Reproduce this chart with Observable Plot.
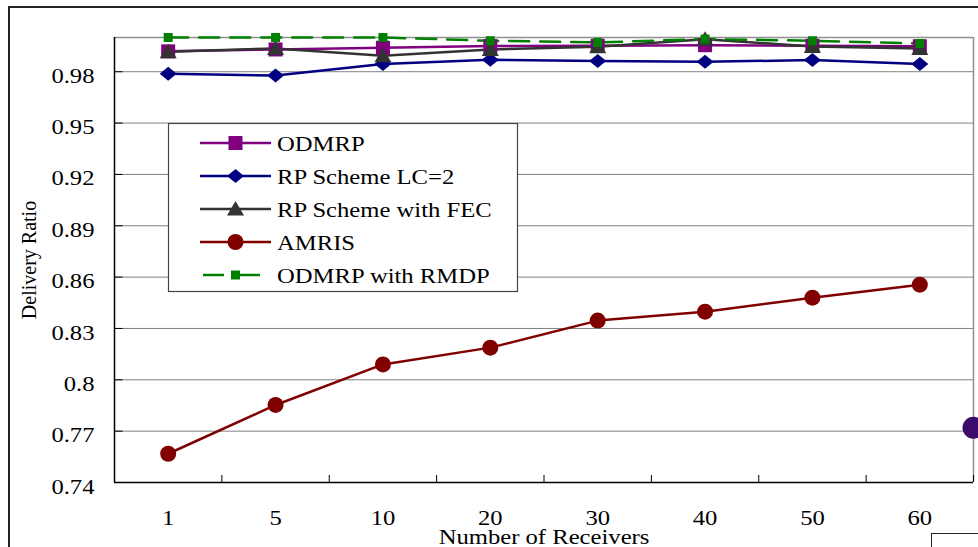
<!DOCTYPE html>
<html><head><meta charset="utf-8">
<script src="https://cdn.jsdelivr.net/npm/d3@7"></script>
<script src="https://cdn.jsdelivr.net/npm/@observablehq/plot@0.6"></script>
<style>
body{margin:0;background:#fff;}
#wrap{position:relative;width:978px;height:547px;overflow:hidden;background:#fff;}
#wrap svg{position:absolute;left:0;top:0;}
.frameTL{position:absolute;left:8px;top:6px;width:1000px;height:1000px;border-top:2px solid #222;border-left:2px solid #222;}
.boxBR{position:absolute;left:931px;top:533px;width:100px;height:100px;border:1.5px solid #222;}
</style></head><body>
<div id="wrap"><div class="frameTL"></div><div class="boxBR"></div></div>
<script>
// ---- data ----
const receivers = ["1","5","10","20","30","40","50","60"];
const seriesNames = ["ODMRP","RP Scheme LC=2","RP Scheme with FEC","AMRIS","ODMRP with RMDP"];
const odmrp   = [0.9919,0.9930,0.9940,0.9950,0.9952,0.9955,0.9952,0.9949];
const rpLC2   = [0.9788,0.9778,0.9845,0.9870,0.9862,0.9858,0.9868,0.9845];
const rpFEC   = [0.9917,0.9936,0.9893,0.9930,0.9946,0.9990,0.9948,0.9936];
const amris   = [0.7568,0.7853,0.8090,0.8188,0.8346,0.8398,0.8480,0.8556];
const odmrpRMDP = [1.0000,1.0000,1.0000,0.9981,0.9971,0.9991,0.9981,0.9965];
const yTicks = [0.74,0.77,0.8,0.83,0.86,0.89,0.92,0.95,0.98];
const strayMarker = [{x: 7.5, y: 0.772}];

const seriesValues = [odmrp, rpLC2, rpFEC, amris, odmrpRMDP];
const seriesColors = ["#800080","#000080","#333333","#800000","#008000"];
const seriesDash = [null,null,null,null,"20,11"];

// custom marker shapes (Excel-like, slightly wide)
const symSquare = {draw(c){ c.rect(-7,-7,14,14); }};
const symDiamond = {draw(c){ c.moveTo(0,-7); c.lineTo(8.5,0); c.lineTo(0,7); c.lineTo(-8.5,0); c.closePath(); }};
const symTriangle = {draw(c){ c.moveTo(0,-8); c.lineTo(8.5,6.5); c.lineTo(-8.5,6.5); c.closePath(); }};
const symCircle = {draw(c){ c.moveTo(8,0); c.arc(0,0,8,0,2*Math.PI); c.closePath(); }};
const symSmallSquare = {draw(c){ c.rect(-4.5,-4.5,9,9); }};
const seriesSymbols = [symSquare, symDiamond, symTriangle, symCircle, symSmallSquare];

const rows = seriesNames.map((s, k) => receivers.map((r, i) => ({series: s, k, i, receivers: r, value: seriesValues[k][i]})));
const idx = receivers.map((_, i) => i);
const bounds = receivers.map((_, i) => i + 0.5);
const FONT = "'Liberation Serif','Times New Roman',serif";

const marks = [
  Plot.ruleY(yTicks.slice(1), {stroke: "#808080", strokeWidth: 1}),
  Plot.ruleY([1.0], {stroke: "#909090", strokeWidth: 1.5}),
  Plot.ruleX([7.5], {stroke: "#909090", strokeWidth: 1.5}),
  Plot.ruleY(yTicks, {x1: -0.5, x2: -0.42, stroke: "#000", strokeWidth: 1}),
  Plot.ruleX(bounds, {y1: 0.74, y2: 0.7441, stroke: "#000", strokeWidth: 1}),
  Plot.ruleX([-0.5], {stroke: "#000", strokeWidth: 1.5}),
  Plot.ruleY([0.74], {stroke: "#000", strokeWidth: 1.5}),
  Plot.axisY(yTicks, {tickSize: 0, tickPadding: 20, dy: 4, fontSize: 22, tickFormat: d => String(d), label: null}),
  Plot.axisX(idx, {tickSize: 0, tickPadding: 27, fontSize: 22, tickFormat: i => receivers[i], label: null}),
  Plot.text(["Number of Receivers"], {text: d => d, frameAnchor: "bottom", textAnchor: "middle", dy: 61, lineAnchor: "bottom", fontSize: 22}),
  Plot.text(["Delivery Ratio"], {text: d => d, frameAnchor: "left", textAnchor: "middle", rotate: -90, dx: -79, lineAnchor: "bottom", fontSize: 20})
];
rows.forEach((data, k) => {
  marks.push(Plot.line(data, {x: "i", y: "value", stroke: seriesColors[k], strokeWidth: 2.5, strokeDasharray: seriesDash[k] || undefined}));
});
rows.forEach((data, k) => {
  marks.push(Plot.dot(data, {x: "i", y: "value", symbol: seriesSymbols[k], fill: seriesColors[k], stroke: "none"}));
});
marks.push(Plot.dot(strayMarker, {x: "x", y: "y", r: 11, fill: "#3b0a6c"}));

const plot = Plot.plot({
  width: 978, height: 547,
  marginLeft: 114, marginRight: 5, marginTop: 37, marginBottom: 65,
  x: {type: "linear", domain: [-0.5, 7.5]},
  y: {type: "linear", domain: [0.74, 1.0]},
  style: {fontFamily: FONT, fontSize: "22px", color: "#000", background: "transparent", overflow: "visible"},
  marks
});
document.getElementById("wrap").appendChild(plot);

// legend
const svg = d3.select(plot);
const lg = svg.append("g").attr("text-anchor", "start");
lg.append("rect").attr("x", 168.5).attr("y", 123.5).attr("width", 349).attr("height", 168)
  .attr("fill", "#fff").attr("stroke", "#444").attr("stroke-width", 1.2);
seriesNames.forEach((name, k) => {
  const y = 143 + k * 33;
  if (seriesDash[k]) {
    lg.append("line").attr("x1", 203).attr("x2", 224).attr("y1", y).attr("y2", y).attr("stroke", seriesColors[k]).attr("stroke-width", 2.5);
    lg.append("line").attr("x1", 231).attr("x2", 260).attr("y1", y).attr("y2", y).attr("stroke", seriesColors[k]).attr("stroke-width", 2.5);
  } else {
    lg.append("line").attr("x1", 200).attr("x2", 271).attr("y1", y).attr("y2", y).attr("stroke", seriesColors[k]).attr("stroke-width", 2.5);
  }
  const p = d3.path(); seriesSymbols[k].draw(p);
  lg.append("path").attr("d", p.toString()).attr("transform", `translate(235.5,${y})`).attr("fill", seriesColors[k]);
  lg.append("text").attr("x", 277).attr("y", y).attr("dy", "0.35em").attr("text-anchor", "start")
    .attr("font-size", 22).attr("font-family", FONT).attr("fill", "#000").text(name);
});

// horizontal stretch of text (as in the reference picture)
svg.selectAll("text").each(function() {
  const t = this.getAttribute("transform") || "";
  if (t.includes("rotate")) return;
  const len = this.getComputedTextLength();
  if (len > 0) { this.setAttribute("textLength", len * 1.12); this.setAttribute("lengthAdjust", "spacingAndGlyphs"); }
});
</script>
</body></html>
